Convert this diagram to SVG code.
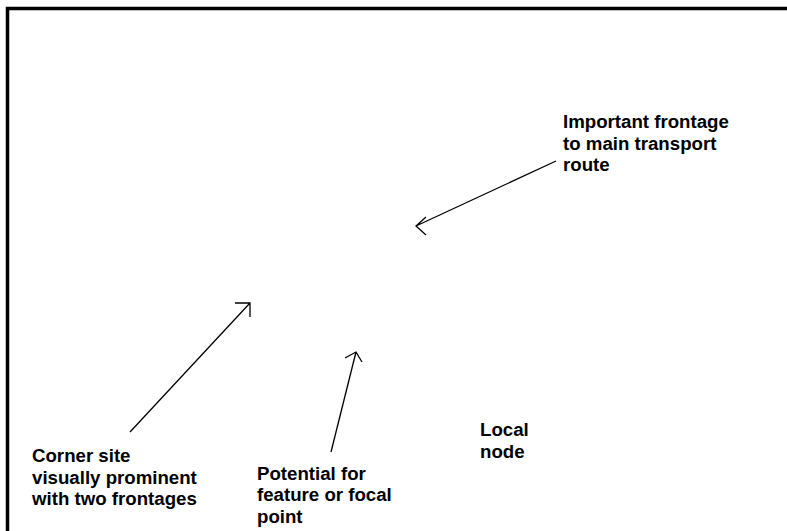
<svg xmlns="http://www.w3.org/2000/svg" width="787" height="531" viewBox="0 0 787 531">
<style>
.lbl{font-family:"Liberation Sans",Arial,sans-serif;font-weight:bold;font-size:18.67px;fill:#000}
.con{stroke:#000;stroke-width:1.3;fill:none}
.frame{stroke:#000;stroke-width:3.5;fill:none}
</style>
<rect width="787" height="531" fill="#fff"/>
<g id="frame">
<path class="frame" d="M7.5 531 V8.5 H787"/>
</g>
<g id="connectors">
<path class="con" d="M556 161 L416 226 M426 217 L416 226 L426 235"/>
<path class="con" d="M130 432 L250 303 M235 303 L250 303 L250 317"/>
<path class="con" d="M331 452 L356 352 M345 358 L356 352 L362 362"/>
</g>
<g id="n-important">
<text class="lbl" x="563" y="128.3">Important frontage</text>
<text class="lbl" x="563" y="149.8">to main transport</text>
<text class="lbl" x="563" y="171.3">route</text>
</g>
<g id="n-corner">
<text class="lbl" x="32" y="462">Corner site</text>
<text class="lbl" x="32" y="483.5">visually prominent</text>
<text class="lbl" x="32" y="505">with two frontages</text>
</g>
<g id="n-potential">
<text class="lbl" x="257" y="479.5">Potential for</text>
<text class="lbl" x="257" y="501">feature or focal</text>
<text class="lbl" x="257" y="522.5">point</text>
</g>
<g id="n-local">
<text class="lbl" x="480" y="436">Local</text>
<text class="lbl" x="480" y="457.5">node</text>
</g>
</svg>
